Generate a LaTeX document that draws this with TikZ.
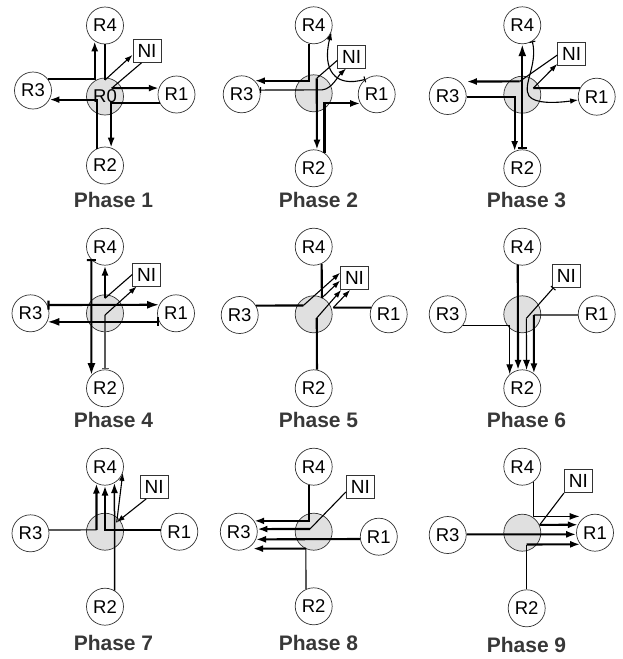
\documentclass[tikz,border=0pt]{standalone}
\usepackage{fontspec}
\setmainfont{Liberation Sans}
\usetikzlibrary{arrows.meta}
\tikzset{
  rn/.style={circle, draw=black!80, line width=0.7pt, minimum size=37pt, inner sep=0pt, fill=white, font=\fontsize{18.5}{20}\selectfont},
  cn/.style={circle, draw=black!80, line width=0.7pt, minimum size=37pt, inner sep=0pt, fill=black!12, font=\fontsize{18.5}{20}\selectfont},
  nin/.style={draw=black!80, line width=0.8pt, minimum width=28pt, minimum height=23pt, inner sep=0pt, fill=white, font=\fontsize{19}{20}\selectfont},
  thk/.style={line width=2.1pt},
  thn/.style={line width=1.1pt},
  med/.style={line width=1.5pt},
  ar/.style={-{Latex[length=10pt,width=7pt]}},
  ars/.style={-{Latex[length=8pt,width=5.5pt]}},
  arb/.style={{Bar[width=9pt]}-{Latex[length=12pt,width=8pt]}},
  arbs/.style={{Bar[width=6pt]}-{Latex[length=8pt,width=5.5pt]}},
  lbl/.style={font=\bfseries\fontsize{21}{24}\selectfont, text=black!78},
}
\begin{document}
\begin{tikzpicture}[x=1pt,y=-1pt]
\useasboundingbox (0,0) rectangle (623,659);
% ---------- Phase 1 ----------
\node[rn] (p1R4) at (105,25.5) {R4};
\node[rn] (p1R3) at (33,90.5) {R3};
\node[cn] (p1R0) at (105,96.5) {R0};
\node[rn] (p1R1) at (176.5,94.5) {R1};
\node[rn] (p1R2) at (105,165.5) {R2};
\node[nin] (p1NI) at (147,51) {NI};
\node[lbl] (p1L) at (113.5,200) {Phase 1};
\draw[thk,ar] (p1R3.38.4) -| (p1R4.237.3);
\coordinate (p1b) at (105,80);
\draw[thk] (p1R4.south) -- (p1b);
\draw[thn,ars] (p1b) -- (p1NI.195);
\coordinate (p1c) at (111.7,88.2);
\draw[thn] (p1NI.245) -- (p1c);
\draw[thk,ar] (p1c) -- (p1R1.160.4);
\draw[thk,ar] (p1R1.206.3) -| (p1R2.71.1);
\draw[thk,ar] (p1R2.116.7) |- (p1R3.331.6);
% ---------- Phase 2 ----------
\node[rn] (p2R4) at (313.7,25.3) {R4};
\node[rn] (p2R3) at (241.7,94.3) {R3};
\node[cn] (p2C) at (313.7,93.3) {};
\node[rn] (p2R1) at (376.7,94.3) {R1};
\node[rn] (p2R2) at (313.7,168.3) {R2};
\node[nin] (p2NI) at (351.7,56.5) {NI};
\node[lbl] (p2L) at (318.5,200) {Phase 2};
\draw[thk,ar] (p2R4.256.2) |- (p2R3.46);
\draw[thn,arbs] (p2R3.13.4) -- (322,89.9) .. controls (332,89) and (338,76) .. (p2NI.245);
\coordinate (p2c) at (316.7,78.3);
\draw[thn] (p2NI.195) -- (p2c);
\draw[thk,ar] (p2c) -- (p2R2.80.7);
\draw[thk,ar] (p2R2.55) |- (p2R1.209.1);
\draw[thn,arbs] (p2R1.127.3) .. controls (335,88) and (322,70) .. (p2R4.339.4);
% ---------- Phase 3 ----------
\node[rn] (p3R4) at (522.3,25.3) {R4};
\node[rn] (p3R3) at (447.7,96) {R3};
\node[cn] (p3C) at (522.3,94.7) {};
\node[rn] (p3R1) at (596.7,96.7) {R1};
\node[rn] (p3R2) at (522.3,168.3) {R2};
\node[nin] (p3NI) at (571.7,53.8) {NI};
\node[lbl] (p3L) at (526.5,200) {Phase 3};
\coordinate (p3a) at (519.7,81.4);
\draw[thn] (p3NI.185) -- (p3a);
\draw[thk,ar,shorten >=7pt] (p3a) -- (p3R3.50.6);
\draw[thk,ar] (p3R3.357.8) -| (p3R2.114.3);
\draw[thk,arb] (p3R2.north) -- (p3R4.south);
\coordinate (p3d) at (533.3,88.1);
\draw[thk] (p3R1.153) -- (p3d);
\draw[thn,ars] (p3d) -- (p3NI.215);
\draw[thn,arbs] (p3R4.302.8) .. controls (538,65) and (522,85) .. (529,96) .. controls (535,104) and (556,103) .. (p3R1.190);
% ---------- Phase 4 ----------
\node[rn] (p4R4) at (105,246.7) {R4};
\node[rn] (p4R3) at (30.5,313.3) {R3};
\node[cn] (p4C) at (105,313.3) {};
\node[rn] (p4R1) at (176,313.3) {R1};
\node[rn] (p4R2) at (105,388.3) {R2};
\node[nin] (p4NI) at (146.7,274.5) {NI};
\node[lbl] (p4L) at (113.5,420) {Phase 4};
\coordinate (p4a) at (91.4,259);
\draw[thk,arb] (p4a) -- (p4R2.136);
\coordinate (p4b) at (105,315);
\draw[thn,draw=black!65,{Bar[width=7pt]}-] (p4R2.north) -- (p4b);
\draw[thn,ars] (p4b) -- (p4NI.230);
\coordinate (p4c) at (105,298.3);
\draw[thn] (p4NI.west) -- (p4c);
\draw[thk,ar] (p4c) -- (p4R4.south);
\draw[thk,arb] (p4R3.26.7) -- (p4R1.153.3);
\draw[thk,arb] (p4R1.207) -- (p4R3.333);
% ---------- Phase 5 ----------
\node[rn] (p5R4) at (313.7,246.7) {R4};
\node[rn] (p5R3) at (239.7,315) {R3};
\node[cn] (p5C) at (313.7,314.3) {};
\node[rn] (p5R1) at (388.7,314.3) {R1};
\node[rn] (p5R2) at (313.7,388.3) {R2};
\node[nin] (p5NI) at (354.5,278) {NI};
\node[lbl] (p5L) at (318.5,420) {Phase 5};
\coordinate (p5a) at (303.3,305.5);
\draw[thk] (p5R3.30.2) -- (p5a);
\draw[thn,ars] (p5a) -- (p5NI.160);
\coordinate (p5b) at (321.85,298);
\draw[thk] (p5R4.295.6) -- (p5b);
\draw[thn,ars] (p5b) -- (p5NI.190);
\coordinate (p5c) at (316.75,318);
\draw[thk] (p5R2.80.7) -- (p5c);
\draw[thn,ars] (p5c) -- (p5NI.222);
\coordinate (p5d) at (333.3,307.6);
\draw[thk] (p5R1.159.1) -- (p5d);
\draw[thn,ars] (p5d) -- (p5NI.250);
% ---------- Phase 6 ----------
\node[rn] (p6R4) at (522.3,246.7) {R4};
\node[rn] (p6R3) at (447.7,314.3) {R3};
\node[cn] (p6C) at (522.3,314.3) {};
\node[rn] (p6R1) at (596.7,314.3) {R1};
\node[rn] (p6R2) at (522.3,388.3) {R2};
\node[nin] (p6NI) at (566.3,275.8) {NI};
\node[lbl] (p6L) at (526.5,420) {Phase 6};
\draw[thn,ar] (p6R3.324.7) -| (p6R2.132.9);
\draw[thk,ar] (p6R4.256.6) -- (p6R2.103.4);
\coordinate (p6c) at (526.4,318.3);
\draw[thn,{Bar[width=6pt]}-] (p6NI.223.2) -- (p6c);
\draw[thn,ar] (p6c) -- (p6R2.77.5);
\coordinate (p6d) at (533.9,315);
\draw[thn] (p6R1.182.2) -- (p6d);
\draw[thk,ar] (p6d) -- (p6R2.52);
% ---------- Phase 7 ----------
\node[rn] (p7R4) at (105,466.7) {R4};
\node[rn] (p7R3) at (30.5,533.3) {R3};
\node[cn] (p7C) at (105,531.7) {};
\node[rn] (p7R1) at (179.3,531.7) {R1};
\node[rn] (p7R2) at (105,606.7) {R2};
\node[nin] (p7NI) at (154.2,487) {NI};
\node[lbl] (p7L) at (113.5,643.3) {Phase 7};
\coordinate (p7a) at (96.5,529.9);
\draw[thn] (p7R3.10.3) -- (p7a);
\draw[thk,ar] (p7a) -- (p7R4.243.3);
\draw[thk,ar] (p7R1.174.7) -| (p7R4.south);
\draw[med,ar] (p7R2.59.8) -- (p7R4.300.2);
\coordinate (p7e) at (116.7,522.3);
\draw[thn,ars] (p7NI.236.4) -- (p7e);
\draw[thn,ars] (p7e) -- (p7R4.341.5);
% ---------- Phase 8 ----------
\node[rn] (p8R4) at (313.7,466.7) {R4};
\node[rn] (p8R3) at (238.8,531.7) {R3};
\node[cn] (p8C) at (313.7,531.7) {};
\node[rn] (p8R1) at (378.8,536.7) {R1};
\node[rn] (p8R2) at (313.7,606.3) {R2};
\node[nin] (p8NI) at (360.3,486.7) {NI};
\node[lbl] (p8L) at (318.5,643.3) {Phase 8};
\draw[thk,ar] (p8R4.256.2) |- (p8R3.35.3);
\coordinate (p8b) at (310,528.95);
\draw[thn] (p8NI.200.2) -- (p8b);
\draw[thk,ar] (p8b) -- (p8R3.8.4);
\draw[thk,ar] (p8R1.187.1) -- (p8R3.336.8);
\coordinate (p8d) at (305.85,548.6);
\draw[thn] (p8R2.114.6) -- (p8d);
\draw[thk,ar,shorten >=6pt] (p8d) -- (p8R3.296.2);
% ---------- Phase 9 ----------
\node[rn] (p9R4) at (522.3,466.7) {R4};
\node[rn] (p9R3) at (447.7,535) {R3};
\node[cn] (p9C) at (522.3,532.7) {};
\node[rn] (p9R1) at (595,532.7) {R1};
\node[rn] (p9R2) at (526.7,608.3) {R2};
\node[nin] (p9NI) at (578.3,481.2) {NI};
\node[lbl] (p9L) at (526.5,645) {Phase 9};
\draw[thn,ar,shorten >=6pt] (p9R4.308) |- (p9R1.120.1);
\coordinate (p9b) at (539.7,524.85);
\draw[thn] (p9NI.south west) -- (p9b);
\draw[thk,ar] (p9b) -- (p9R1.155.4);
\draw[thk,ar] (p9R3.2.2) -- (p9R1.185);
\coordinate (p9d) at (526.7,544.5);
\draw[thn] (p9R2.north) -- (p9d);
\draw[thk,ar] (p9d) -- (p9R1.218.8);
\end{tikzpicture}
\end{document}
